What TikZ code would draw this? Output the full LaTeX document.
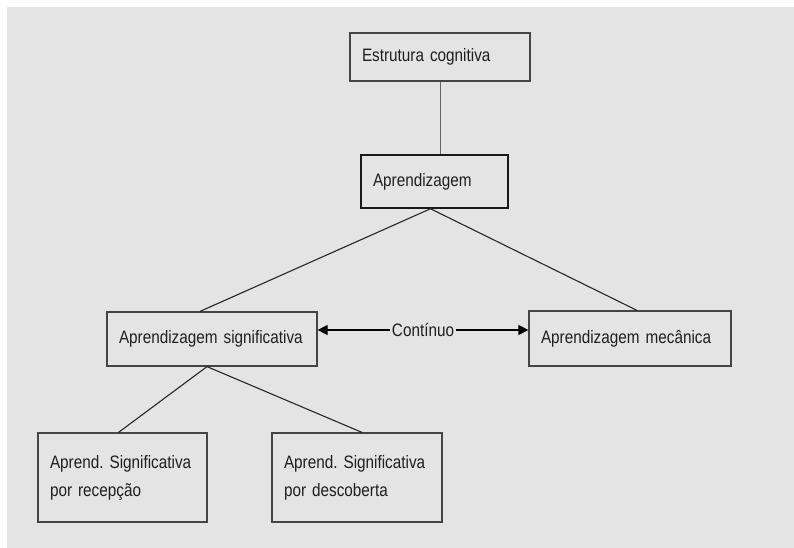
\documentclass[tikz,border=0pt]{standalone}
\usepackage{fontspec}
\setmainfont[FakeStretch=0.85]{Liberation Sans}
\usetikzlibrary{arrows.meta}
\definecolor{bg}{HTML}{E4E4E4}
\definecolor{edge}{HTML}{444444}
\frenchspacing
\begin{document}
\begin{tikzpicture}[x=1pt,y=-1pt,
  box/.style={draw=edge, line width=1.2pt, fill=bg, rectangle, align=left,
    inner xsep=12pt, inner ysep=0pt, font=\fontsize{18}{21}\selectfont, text=black!88},
  twoline/.style={font=\fontsize{18}{28}\selectfont},
  link/.style={draw=black!85, line width=1.1pt},
  mytip/.tip={Triangle[length=10pt,width=10pt]}]
\useasboundingbox (0,0) rectangle (794,547);
\fill[white] (0,0) rectangle (794,547);
\fill[bg] (7,7) rectangle (800,553);

\node[box, text width=156pt, minimum height=48pt] (estr) at (440,57) {Estrutura cognitiva};
\node[box, draw=black!90, line width=1.5pt, text width=123pt, minimum height=53pt] (apr) at (434.5,181.5) {Aprendizagem};
\node[box, text width=186pt, minimum height=54pt] (sig) at (212,339) {Aprendizagem significativa};
\node[box, text width=178pt, minimum height=55pt] (mec) at (630,338.5) {Aprendizagem mecânica};
\node[box, twoline, text width=145pt, minimum height=89pt] (rec) at (122.5,477.5) {Aprend. Significativa\\por recepção};
\node[box, twoline, text width=146pt, minimum height=89pt] (desc) at (357,477.5) {Aprend. Significativa\\por descoberta};

\draw[link, draw=black!60, line width=0.9pt] (estr.south) -- (estr.south |- apr.north);
\draw[link] ([xshift=-4pt]apr.south) -- ([xshift=-12pt]sig.north);
\draw[link] ([xshift=-4pt]apr.south) -- ([xshift=7pt]mec.north);
\draw[link] ([xshift=-5pt]sig.south) -- ([xshift=-4pt]rec.north);
\draw[link] ([xshift=-5pt]sig.south) -- ([xshift=5pt]desc.north);
\draw[link, draw=black, mytip-mytip] ([yshift=9pt]sig.east) -- node[fill=bg, inner sep=2pt, font=\fontsize{18}{21}\selectfont, text=black!88] (cont) {Contínuo} ([yshift=9pt]sig.east -| mec.west);
\end{tikzpicture}
\end{document}
